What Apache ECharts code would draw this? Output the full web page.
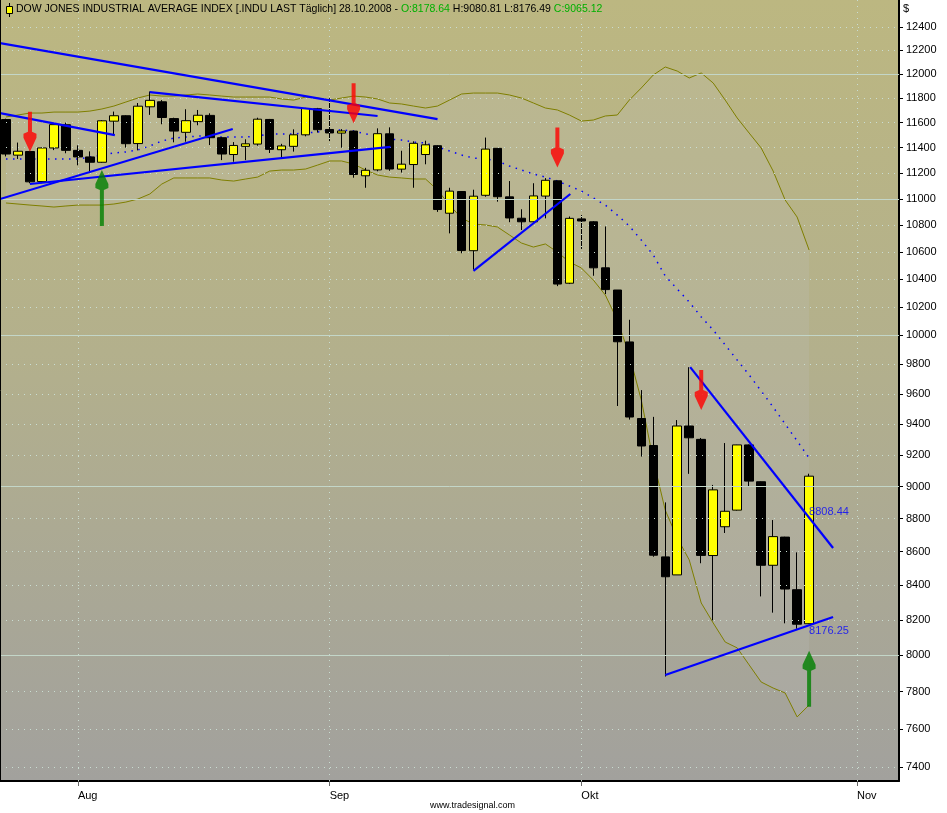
<!DOCTYPE html>
<html><head><meta charset="utf-8">
<script src="https://cdn.jsdelivr.net/npm/echarts@6/dist/echarts.min.js"></script>
<style>html,body{margin:0;padding:0;background:#fff}#c{width:947px;height:813px}</style>
</head><body><div id="c"></div>
<script>
// ---- data ----
const dates = ['2008-07-24','2008-07-25','2008-07-28','2008-07-29','2008-07-30','2008-07-31',
'2008-08-01','2008-08-04','2008-08-05','2008-08-06','2008-08-07','2008-08-08','2008-08-11','2008-08-12','2008-08-13','2008-08-14','2008-08-15','2008-08-18','2008-08-19','2008-08-20','2008-08-21','2008-08-22','2008-08-25','2008-08-26','2008-08-27','2008-08-28','2008-08-29',
'2008-09-02','2008-09-03','2008-09-04','2008-09-05','2008-09-08','2008-09-09','2008-09-10','2008-09-11','2008-09-12','2008-09-15','2008-09-16','2008-09-17','2008-09-18','2008-09-19','2008-09-22','2008-09-23','2008-09-24','2008-09-25','2008-09-26','2008-09-29','2008-09-30',
'2008-10-01','2008-10-02','2008-10-03','2008-10-06','2008-10-07','2008-10-08','2008-10-09','2008-10-10','2008-10-13','2008-10-14','2008-10-15','2008-10-16','2008-10-17','2008-10-20','2008-10-21','2008-10-22','2008-10-23','2008-10-24','2008-10-27','2008-10-28'];
const futureDates = ['2008-10-29','2008-10-30','2008-10-31','2008-11-03','2008-11-04','2008-11-05','2008-11-06'];

const openV  = [11625,11340,11369,11133,11397,11583,11378,11326,11284,11612,11656,11432,11729,11770,11633,11522,11608,11659,11479,11345,11410,11428,11626,11383,11410,11502,11713,
11545,11516,11532,11178,11224,11510,11230,11266,11345,11415,10890,11056,10609,11027,11394,11015,10852,10825,11021,11139,10371,
10847,10825,10483,10322,9955,9437,9261,8569,8462,9388,9301,8577,8751,8853,9265,9030,8519,8688,8375,8178.64];
const highV  = [11632,11440,11375,11400,11585,11600,11418,11370,11620,11690,11660,11760,11855,11784,11640,11709,11703,11676,11485,11444,11466,11640,11630,11430,11546,11720,11720,
11800,11548,11535,11240,11554,11562,11375,11450,11455,11420,11085,11060,11070,11480,11395,11137,10920,11120,11160,11140,10865,
10876,10830,10790,10322,10110,9626,9448,8901,9427,9781,9310,9010,9277,9266,9268,9032,8792,8690,8596,9080.81];
const lowV   = [11330,11310,11120,11120,11380,11355,11260,11210,11280,11501,11400,11378,11663,11587,11442,11447,11579,11420,11301,11288,11301,11415,11357,11323,11368,11490,11520,
11452,11399,11163,11085,11213,11217,11203,11085,11268,10900,10738,10590,10470,11016,10978,10822,10763,10818,10851,10350,10365,
10622,10425,10293,9520,9430,9190,8570,7883,8462,9080,8531,8198,8713,8850,8999,8336,8242,8181,8150,8176.49];
const closeV = [11349,11371,11131,11397,11584,11378,11326,11284,11615,11656,11431,11734,11782,11642,11532,11616,11660,11479,11349,11417,11430,11628,11386,11413,11502,11715,11543,
11517,11533,11188,11221,11511,11231,11269,11434,11422,10918,11059,10610,11020,11388,11016,10854,10825,11022,11143,10365,10851,
10831,10483,10325,9956,9447,9258,8579,8451,9388,9311,8578,8979,8846,9265,9034,8519,8691,8379,8176,9065.12];

const upperBand  = [11646,11662,11678,11678,11686,11686,11686,11694,11711,11735,11768,11801,11826,11817,11817,11826,11834,11826,11817,11809,11809,11809,11809,11793,11784,11809,11801,
11784,11801,11817,11809,11793,11760,11752,11735,11719,11735,11784,11834,11842,11842,11842,11826,11801,11760,11719,11703,11662,
11613,11621,11654,11662,11784,11884,11992,12059,12025,11967,12009,11925,11784,11638,11516,11397,11215,10991,10861,10614];
const middleBand = [11310,11310,11310,11310,11310,11310,11310,11325,11341,11357,11365,11381,11413,11452,11476,11484,11492,11492,11484,11484,11484,11492,11509,11509,11509,11517,11525,
11541,11541,11533,11509,11492,11468,11460,11444,11436,11405,11373,11341,11317,11310,11294,11254,11223,11192,11168,11137,11099,
11060,11006,10952,10876,10793,10688,10577,10423,10329,10236,10130,10038,9934,9830,9728,9620,9513,9401,9291,9181];
const lowerBand  = [10968,10960,10952,10945,10937,10945,10952,10952,10952,10960,10975,10998,11037,11114,11161,11161,11161,11161,11145,11137,11153,11168,11215,11223,11223,11231,11262,
11294,11294,11270,11223,11184,11168,11161,11153,11153,11068,10952,10854,10808,10801,10786,10726,10666,10636,10659,10599,10526,
10482,10394,10286,10108,9865,9560,9168,8853,8683,8551,8298,8183,8075,8042,7947,7853,7820,7793,7664,7728];

const yTicks = [7400,7600,7800,8000,8200,8400,8600,8800,9000,9200,9400,9600,9800,10000,10200,10400,10600,10800,11000,11200,11400,11600,11800,12000,12200,12400];
const majorLevels = [8000,9000,10000,11000,12000];
const monthStarts = ['2008-08-01','2008-09-02','2008-10-01','2008-11-03'];
const monthLabels = ['Aug','Sep','Okt','Nov'];

// trend lines: [[barIndex, value],[barIndex, value]]
const trendLines = [
  [[-0.5,12262],[36,11629]],
  [[12,11850],[31,11654]],
  [[-0.5,11678],[9.08,11500]],
  [[-0.5,10998],[18.92,11549]],
  [[2,11114],[32.08,11405]],
  [[39,10460],[47.08,11037]],
  [[57.08,9782],[69,8622]],
  [[55,7891],[69,8217]]
];
const downArrows = [[2,11527],[29,11758],[46,11401],[58,9627]];
const upArrows = [[8,11006],[67,7871]];
const lineValueLabels = [[67,8808.44],[67,8176.25]];

// ---- chart ----
const allCats = dates.concat(futureDates);
const chart = echarts.init(document.getElementById('c'), null, {renderer:'canvas'});
const candleData = dates.map((d,i)=>[openV[i],closeV[i],lowV[i],highV[i]]);
const bandWidth = upperBand.map((u,i)=>u-lowerBand[i]);
const isMonth = (idx, val) => monthStarts.indexOf(val) >= 0;
const FONT = '"Liberation Sans", Arial, sans-serif';

const gridMarkData = yTicks.map(v => ({
  yAxis: v,
  lineStyle: majorLevels.indexOf(v) >= 0
    ? {type:'solid', color:'#C3D6C8', width:1}
    : {type:[1,5], color:'#CADDD2', width:1}
})).concat(monthStarts.map(m => ({xAxis: m, lineStyle:{type:[1,5], color:'#CADDD2', width:1}})));

const series = [
  {
    name:'grid', type:'line', data: allCats.map(()=>null), z:1, silent:true, symbol:'none',
    markLine:{silent:true, symbol:['none','none'], label:{show:false}, animation:false, data: gridMarkData}
  },
  {name:'lower', type:'line', data:lowerBand, stack:'bb', symbol:'none', z:2,
   lineStyle:{color:'#7F7F00', width:1}},
  {name:'band', type:'line', data:bandWidth, stack:'bb', symbol:'none', z:2,
   lineStyle:{color:'#7F7F00', width:1}, areaStyle:{color:'rgba(196,196,200,0.26)'}},
  {name:'middle', type:'line', data:middleBand, symbol:'none', z:3,
   lineStyle:{color:'#0000FF', width:1.5, type:[1.5,5.5]}},
  {name:'DJIA', type:'candlestick', data:candleData, barWidth:9, z:4,
   itemStyle:{color:'#FFFF00', color0:'#000000', borderColor:'#000000', borderColor0:'#000000', borderColorDoji:'#000000', borderWidth:1}}
];
trendLines.forEach((ln,k)=>series.push({
  name:'trend'+k, type:'line', xAxisIndex:1, data:ln, symbol:'none', z:5,
  lineStyle:{color:'#0000FF', width:2.2}
}));
series.push({name:'down', type:'scatter', xAxisIndex:1, data:downArrows, z:6,
  symbol:'path://M4.5,0L8.5,0L8.5,20L13,22L13,26L6.5,40L0,26L0,22L4.5,20Z', symbolSize:[13,40],
  itemStyle:{color:'#FF0000'}});
series.push({name:'up', type:'scatter', xAxisIndex:1, data:upArrows, z:6,
  symbol:'path://M6.5,0L13,14L13,18L8.5,20L8.5,56L4.5,56L4.5,20L0,18L0,14Z', symbolSize:[13,56],
  itemStyle:{color:'#008000'}});
series.push({name:'lbl', type:'scatter', xAxisIndex:1, z:7, symbolSize:0,
  data: lineValueLabels.map((p,i)=>({value:p, label:{offset:[0, i===0?-5:7]}})),
  label:{show:true, position:'right', distance:0, color:'#0000FF', fontSize:11, fontFamily:FONT,
    formatter: p => p.value[1].toFixed(2)}});

const option = {
  animation:false,
  backgroundColor:'#FFFFFF',
  grid:{left:0, right:48, top:0, bottom:32, show:true, borderWidth:0,
    backgroundColor: new echarts.graphic.LinearGradient(0,0,0,1,[
      {offset:0, color:'#BCB781'},{offset:0.45, color:'#B3B08C'},{offset:1, color:'#A2A19D'}])},
  xAxis:[
    {type:'category', data:allCats, boundaryGap:true,
     axisLine:{show:true, lineStyle:{color:'#000', width:2}},
     axisTick:{show:true, interval:isMonth, alignWithLabel:true, length:5, lineStyle:{color:'#666'}},
     axisLabel:{show:true, interval:isMonth, align:'left', margin:9, color:'#000', fontSize:11, fontFamily:FONT,
       formatter: v => monthLabels[monthStarts.indexOf(v)] || ''},
     splitLine:{show:false}},
    {type:'value', min:-0.5, max:allCats.length-0.5, show:false}
  ],
  yAxis:{type:'log', logBase:10, position:'right', min:7329, max:12636, scale:true,
    axisLine:{show:true, onZero:false, lineStyle:{color:'#000', width:2}},
    axisTick:{show:true, customValues:yTicks, length:4, lineStyle:{color:'#000'}},
    axisLabel:{show:true, customValues:yTicks, margin:7, color:'#000', fontSize:11, fontFamily:FONT,
      formatter: v => String(Math.round(v))},
    splitLine:{show:false}},
  graphic:[
    {type:'line', shape:{x1:0.5,y1:0,x2:0.5,y2:781}, style:{stroke:'#000', lineWidth:1}, z:100},
    {type:'line', shape:{x1:9.5,y1:3,x2:9.5,y2:17}, style:{stroke:'#000', lineWidth:1}, z:100},
    {type:'rect', shape:{x:6.5,y:6.5,width:6,height:7}, style:{fill:'#FFFF00', stroke:'#000', lineWidth:1}, z:101},
    {type:'text', left:16, top:4, z:100, style:{
      text:'{k|DOW JONES INDUSTRIAL AVERAGE INDEX [.INDU LAST Täglich] 28.10.2008 - }{g|O:' + openV[67].toFixed(2) + '}{k| H:' + highV[67].toFixed(2) + ' L:' + lowV[67].toFixed(2) + ' }{g|C:' + closeV[67].toFixed(2) + '}',
      rich:{k:{fill:'#000', fontSize:10.5, fontFamily:FONT}, g:{fill:'#00B000', fontSize:10.5, fontFamily:FONT}}}},
    {type:'text', left:903, top:3, z:100, style:{text:'$', fill:'#000', fontSize:11, fontFamily:FONT}},
    {type:'text', left:430, top:801, z:100, style:{text:'www.tradesignal.com', fill:'#000', fontSize:9, fontFamily:FONT}}
  ],
  series: series
};
chart.setOption(option);
</script></body></html>
